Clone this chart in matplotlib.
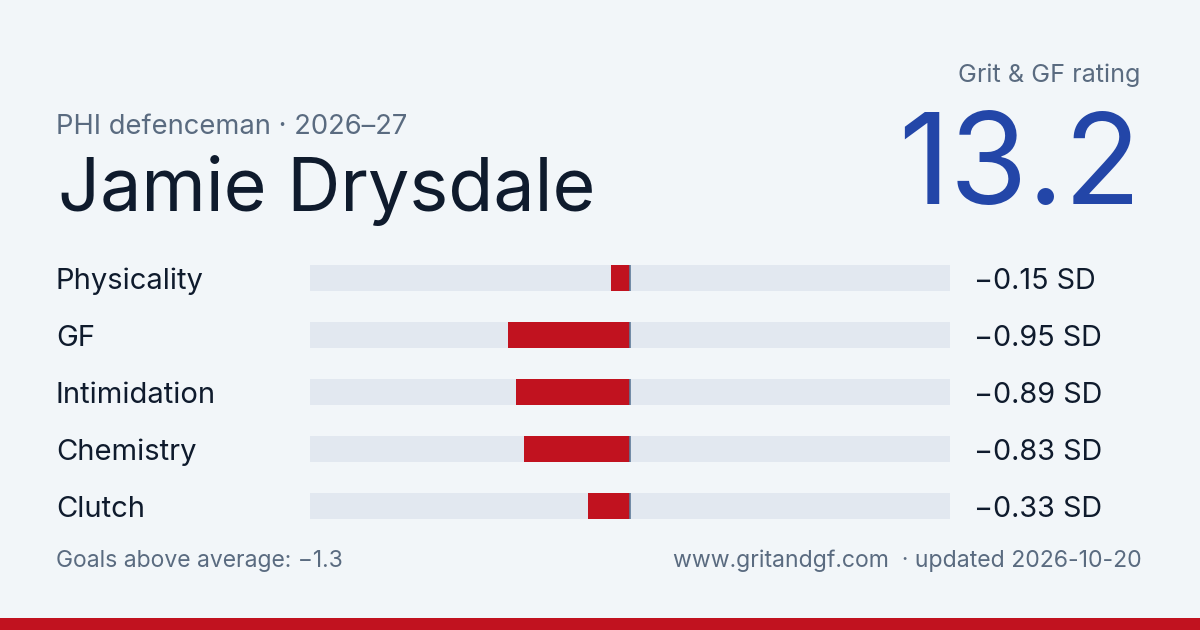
import matplotlib
matplotlib.use("Agg")
import matplotlib.pyplot as plt

categories = ["Physicality", "GF", "Intimidation", "Chemistry", "Clutch"]
values = [-0.15, -0.95, -0.89, -0.83, -0.33]
value_labels = ["\u22120.15 SD", "\u22120.95 SD", "\u22120.89 SD", "\u22120.83 SD", "\u22120.33 SD"]
player = "Jamie Drysdale"
subtitle = "PHI defenceman \u00b7 2026\u201327"
rating_label = "Grit & GF rating"
rating = "13.2"
footer_left = "Goals above average: \u22121.3"
footer_right = "www.gritandgf.com  \u00b7 updated 2026-10-20"

BG = "#f2f6f9"
TRACK = "#e2e8f0"
RED = "#c1121f"
BLUE = "#2346a8"
DARK = "#0f1b2d"
GRAY = "#5a6b80"

plt.rcParams['font.family'] = ['Inter', 'DejaVu Sans']

W, H = 1200, 630
fig = plt.figure(figsize=(12, 6.3), dpi=100, facecolor=BG)

def px(x, y):
    return x / W, 1 - y / H

# bars axes
top, bot = 265, 519
ax = fig.add_axes([310 / W, (H - bot) / H, 640 / W, (bot - top) / H])
ax.set_facecolor(BG)
ax.patch.set_alpha(0)
half = 13 / 57
n = len(categories)
ypos = list(range(n))
ax.barh(ypos, [5.0] * n, left=-2.5, height=2 * half, color=TRACK, zorder=1)
ax.barh(ypos, values, left=0, height=2 * half, color=RED, zorder=2)
for y in ypos:
    ax.plot([0, 0], [y - half, y + half], color="#5d7a99", lw=1.2, zorder=3, solid_capstyle='butt')
ax.set_xlim(-2.5, 2.5)
ax.set_ylim(n - 1 + half, -half)
ax.axis('off')

# row labels
for i, (c, v) in enumerate(zip(categories, value_labels)):
    yb = 289 + 57 * i
    fig.text(*px(56, yb), c, fontsize=21, color=DARK, va='baseline', ha='left')
    fig.text(*px(974, yb), v, fontsize=20.7, color=DARK, va='baseline', ha='left')

# header
fig.text(*px(56, 134), subtitle, fontsize=19.7, color=GRAY, va='baseline', ha='left')
fig.text(*px(58, 211), player, fontsize=53, color=DARK, va='baseline', ha='left')
fig.text(*px(1140, 82), rating_label, fontsize=18.1, color=GRAY, va='baseline', ha='right')
fig.text(*px(1141, 204), rating, fontsize=91, color=BLUE, va='baseline', ha='right')

# footer
fig.text(*px(56, 567), footer_left, fontsize=16.5, color=GRAY, va='baseline', ha='left')
fig.text(*px(1142, 567), footer_right, fontsize=16.6, color=GRAY, va='baseline', ha='right')

# bottom stripe
stripe = fig.add_axes([0, 0, 1, 12 / H])
stripe.set_facecolor(RED)
stripe.set_xticks([]); stripe.set_yticks([])
for s in stripe.spines.values():
    s.set_visible(False)

fig.savefig("out.png", dpi=100, facecolor=BG)
